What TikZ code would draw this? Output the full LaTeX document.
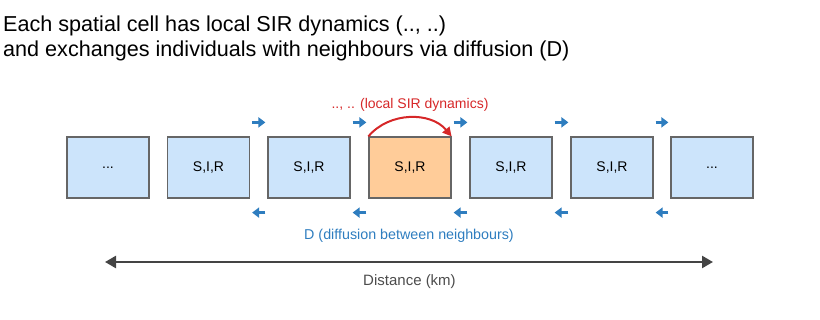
\documentclass[tikz,border=0pt]{standalone}
\usepackage{fontspec}
\setmainfont{Liberation Sans}
\usetikzlibrary{arrows.meta,positioning,calc}

\definecolor{cellblue}{HTML}{CCE4FB}
\definecolor{cellorange}{HTML}{FFCC99}
\definecolor{flowblue}{HTML}{2E7DBF}
\definecolor{dynred}{HTML}{D62728}
\definecolor{axisgray}{HTML}{444444}

\begin{document}
\begin{tikzpicture}[
    x=1pt, y=-1pt,
    cell/.style={draw=black!60, line width=1.2pt, fill=cellblue, minimum width=82pt, minimum height=61pt, inner sep=0pt, font=\fontsize{14}{16}\selectfont},
    flow/.style={-{Triangle[length=7pt,width=10pt]}, line width=3pt, flowblue},
    heading/.style={anchor=base west, inner sep=0pt, font=\fontsize{21.6}{26}\selectfont, text=black}
]
\useasboundingbox (0,0) rectangle (820,320);

% title
\node[heading] (title1) at (3,32) {Each spatial cell has local SIR dynamics (.., ..)};
\node[heading] (title2) at (3,57) {and exchanges individuals with neighbours via diffusion (D)};

% cells
\node[cell] (c1) at (108,167.5) {...};
\node[cell] (c2) at (208.5,167.5) {S,I,R};
\node[cell] (c3) at (309,167.5) {S,I,R};
\node[cell, fill=cellorange] (c4) at (410,167.5) {S,I,R};
\node[cell] (c5) at (511,167.5) {S,I,R};
\node[cell] (c6) at (612,167.5) {S,I,R};
\node[cell] (c7) at (712,167.5) {...};

% diffusion to the right
\draw[flow] ([xshift=2pt,yshift=14pt]c2.north east) -- ([xshift=-2pt,yshift=14pt]c3.north west);
\draw[flow] ([xshift=2pt,yshift=14pt]c3.north east) -- ([xshift=-2pt,yshift=14pt]c4.north west);
\draw[flow] ([xshift=2pt,yshift=14pt]c4.north east) -- ([xshift=-2pt,yshift=14pt]c5.north west);
\draw[flow] ([xshift=2pt,yshift=14pt]c5.north east) -- ([xshift=-2pt,yshift=14pt]c6.north west);
\draw[flow] ([xshift=2pt,yshift=14pt]c6.north east) -- ([xshift=-2pt,yshift=14pt]c7.north west);

% diffusion to the left
\draw[flow] ([xshift=-2pt,yshift=-14pt]c3.south west) -- ([xshift=2pt,yshift=-14pt]c2.south east);
\draw[flow] ([xshift=-2pt,yshift=-14pt]c4.south west) -- ([xshift=2pt,yshift=-14pt]c3.south east);
\draw[flow] ([xshift=-2pt,yshift=-14pt]c5.south west) -- ([xshift=2pt,yshift=-14pt]c4.south east);
\draw[flow] ([xshift=-2pt,yshift=-14pt]c6.south west) -- ([xshift=2pt,yshift=-14pt]c5.south east);
\draw[flow] ([xshift=-2pt,yshift=-14pt]c7.south west) -- ([xshift=2pt,yshift=-14pt]c6.south east);

% local dynamics
\draw[-{Triangle[length=9pt,width=9pt]}, line width=2pt, dynred] (c4.north west) to[bend left=50] (c4.north east);
\node[font=\fontsize{14}{16}\selectfont, text=dynred] (dyn) at (410,105) {.., .. (local SIR dynamics)};
\node[font=\fontsize{14.3}{16}\selectfont, text=flowblue] (diff) at (409,235.5) {D (diffusion between neighbours)};

% distance axis
\coordinate (ax0) at (105,262);
\coordinate (ax1) at (713,262);
\draw[{Triangle[length=11pt,width=12pt]}-{Triangle[length=11pt,width=12pt]}, line width=2.5pt, axisgray] (ax0) -- (ax1);
\node[font=\fontsize{15}{17}\selectfont, text=black!70] (dist) at (409.5,281.5) {Distance (km)};
\end{tikzpicture}
\end{document}
